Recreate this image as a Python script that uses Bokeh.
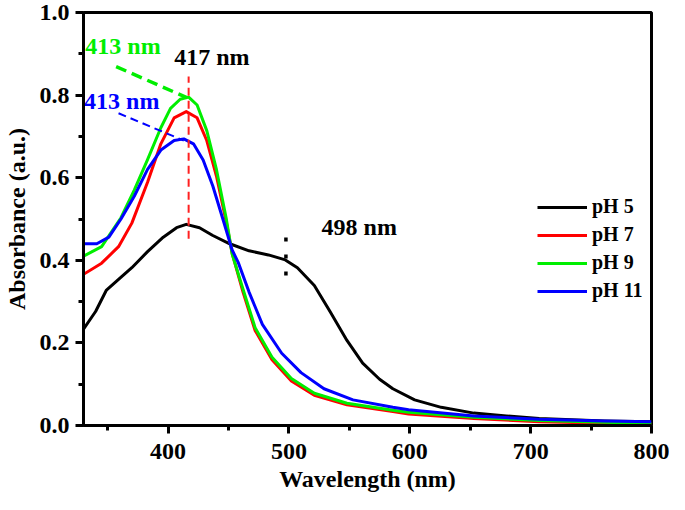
from bokeh.plotting import figure
from bokeh.models import FixedTicker, Range1d, Legend, LegendItem
from bokeh.core.properties import value
from bokeh.embed import file_html
from bokeh.resources import INLINE

FONT = "Liberation Serif"

# ---- data ----
wl_ph5 = [330, 340, 349, 359, 370, 383, 396, 407, 415, 426, 437, 451, 467, 483, 497, 507,
          521, 534, 548, 561, 575, 586, 604, 626, 653, 680, 707, 761, 800]
ab_ph5 = [0.233, 0.276, 0.328, 0.354, 0.382, 0.421, 0.456, 0.479, 0.487, 0.479, 0.46, 0.44,
          0.423, 0.413, 0.401, 0.382, 0.339, 0.276, 0.206, 0.151, 0.112, 0.089, 0.062, 0.044,
          0.03, 0.023, 0.017, 0.011, 0.009]

wl_ph7 = [330, 345, 359, 370, 383, 394, 405, 415, 424, 432, 440, 448, 453, 462, 472, 486,
          502, 521, 548, 586, 599, 653, 707, 800]
ab_ph7 = [0.366, 0.393, 0.433, 0.49, 0.589, 0.682, 0.745, 0.76, 0.745, 0.69, 0.604, 0.495,
          0.417, 0.323, 0.23, 0.159, 0.108, 0.073, 0.05, 0.034, 0.028, 0.017, 0.009, 0.003]

wl_ph9 = [330, 345, 361, 372, 383, 394, 402, 410, 417, 424, 432, 440, 448, 453, 462, 472,
          486, 502, 521, 548, 586, 599, 653, 707, 800]
ab_ph9 = [0.41, 0.433, 0.503, 0.57, 0.644, 0.721, 0.768, 0.79, 0.795, 0.776, 0.714, 0.62,
          0.503, 0.415, 0.33, 0.237, 0.165, 0.114, 0.078, 0.054, 0.037, 0.032, 0.02, 0.012,
          0.005]

wl_ph11 = [330, 341, 351, 361, 372, 383, 394, 405, 413, 421, 429, 437, 445, 453, 458, 467,
           478, 494, 510, 529, 553, 586, 599, 653, 707, 761, 800]
ab_ph11 = [0.44, 0.44, 0.456, 0.50, 0.555, 0.62, 0.667, 0.69, 0.694, 0.682, 0.643, 0.58,
           0.503, 0.425, 0.395, 0.323, 0.245, 0.175, 0.128, 0.089, 0.062, 0.044, 0.038, 0.023,
           0.015, 0.011, 0.009]

series_names = ["pH 5", "pH 7", "pH 9", "pH 11"]
series_colors = ["#000000", "#ff0000", "#00ee00", "#0000ff"]

x_ticks = [400, 500, 600, 700, 800]
x_minor = [350, 450, 550, 650, 750]
y_ticks = [0.0, 0.2, 0.4, 0.6, 0.8, 1.0]
y_minor = [0.1, 0.3, 0.5, 0.7, 0.9]
y_tick_labels = ["0.0", "0.2", "0.4", "0.6", "0.8", "1.0"]
x_tick_labels = ["400", "500", "600", "700", "800"]

# annotations
peak_main_x = [417, 417]
peak_main_y = [0.452, 0.845]
green_arrow_x = [357, 415.5]
green_arrow_y = [0.869, 0.794]
blue_arrow_x = [359, 413]
blue_arrow_y = [0.756, 0.69]
shoulder_x = [497.5, 497.5]
shoulder_y = [0.455, 0.36]

# ---- figure ----
p = figure(width=669, height=494, output_backend="svg", toolbar_location=None,
           x_range=Range1d(330, 800), y_range=Range1d(0, 1.0),
           min_border_left=83, min_border_right=18, min_border_top=12, min_border_bottom=68)
p.background_fill_color = "white"
p.border_fill_color = "white"
p.grid.visible = False
p.outline_line_color = "black"
p.outline_line_width = 3

renderers = []
for xs, ys, c in [(wl_ph5, ab_ph5, series_colors[0]), (wl_ph7, ab_ph7, series_colors[1]),
                  (wl_ph9, ab_ph9, series_colors[2]), (wl_ph11, ab_ph11, series_colors[3])]:
    r = p.line(xs, ys, line_color=c, line_width=3, line_join="round")
    renderers.append(r)

# annotation lines
p.line(peak_main_x, peak_main_y, line_color="#ff2020", line_width=2, line_dash="8 5")
p.line(green_arrow_x, green_arrow_y, line_color="#00ee00", line_width=3.5, line_dash="11 6")
p.line(blue_arrow_x, blue_arrow_y, line_color="#0000ff", line_width=2, line_dash="8 5")
p.line(shoulder_x, shoulder_y, line_color="black", line_width=3.5, line_dash="4 13")

def label(x, y, t, color):
    p.text(x=[x], y=[y], text=[t], text_color=color, text_font=value(FONT),
           text_font_style="bold", text_font_size="24px", text_baseline="middle",
           text_align="left")

label(405, 0.892, "417 nm", "black")
label(331.5, 0.920, "413 nm", "#00ee00")
label(330.5, 0.785, "413 nm", "#0000ff")
label(527, 0.48, "498 nm", "black")

# axes
for ax in (p.xaxis[0], p.yaxis[0]):
    ax.axis_line_width = 3
    ax.major_tick_line_width = 3
    ax.minor_tick_line_width = 3
    ax.major_tick_in = 0
    ax.major_tick_out = 8
    ax.minor_tick_in = 0
    ax.minor_tick_out = 5
    ax.major_label_text_font = FONT
    ax.major_label_text_font_style = "bold"
    ax.major_label_text_font_size = "24px"
    ax.major_label_text_color = "black"
    ax.axis_label_text_font = FONT
    ax.axis_label_text_font_style = "bold"
    ax.axis_label_text_font_size = "24px"
    ax.axis_label_text_color = "black"

p.xaxis.ticker = FixedTicker(ticks=x_ticks, minor_ticks=x_minor)
p.yaxis.ticker = FixedTicker(ticks=y_ticks, minor_ticks=y_minor)
p.xaxis.major_label_overrides = {t: l for t, l in zip(x_ticks, x_tick_labels)}
p.yaxis.major_label_overrides = {t: l for t, l in zip(y_ticks, y_tick_labels)}
p.xaxis.axis_label = "Wavelength (nm)"
p.yaxis.axis_label = "Absorbance (a.u.)"
p.xaxis.major_label_standoff = 10
p.xaxis.axis_label_standoff = 4
p.yaxis.major_label_standoff = 6
p.yaxis.axis_label_standoff = 7

legend = Legend(items=[LegendItem(label=n, renderers=[r]) for n, r in zip(series_names, renderers)],
                location=(454, 123))
legend.padding = 0
legend.margin = 0
legend.border_line_alpha = 0
legend.background_fill_alpha = 0
legend.glyph_width = 50
legend.glyph_height = 20
legend.label_height = 20
legend.spacing = 5
legend.label_standoff = 5
legend.label_text_font = FONT
legend.label_text_font_style = "bold"
legend.label_text_font_size = "20px"
legend.label_text_color = "black"
p.add_layout(legend)

open("out.html", "w").write(file_html(p, INLINE))
